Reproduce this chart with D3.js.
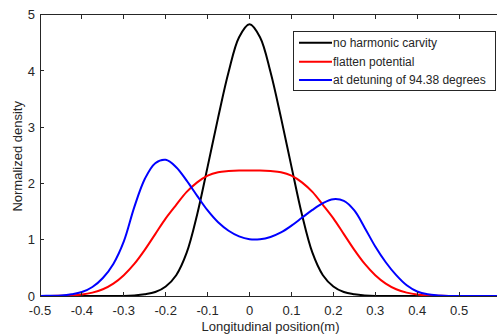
<!DOCTYPE html>
<html>
<head>
<meta charset="utf-8">
<script src="https://cdn.jsdelivr.net/npm/d3@7"></script>
<style>
  body { margin: 0; background: #fff; overflow: hidden; }
  text { font-family: "Liberation Sans", Arial, sans-serif; fill: #262626; }
</style>
</head>
<body>
<script>
// positions along the bunch (m)
const positions = [-0.5, -0.475, -0.45, -0.425, -0.4, -0.375, -0.35, -0.325, -0.3, -0.275,
  -0.25, -0.225, -0.2, -0.175, -0.15, -0.125, -0.1, -0.075, -0.05, -0.025,
  0, 0.025, 0.05, 0.075, 0.1, 0.125, 0.15, 0.175, 0.2, 0.225,
  0.25, 0.275, 0.3, 0.325, 0.35, 0.375, 0.4, 0.425, 0.45, 0.475,
  0.5, 0.525, 0.55, 0.575, 0.6];

const noHarmonic = [0, 0, 0, 0, 0, 0, 0, 0, 0, 0.01,
  0.03, 0.07, 0.17, 0.37, 0.77, 1.45, 2.30, 3.17, 3.98, 4.60,
  4.83, 4.60, 3.98, 3.17, 2.30, 1.45, 0.77, 0.37, 0.17, 0.07,
  0.03, 0.01, 0, 0, 0, 0, 0, 0, 0, 0,
  0, 0, 0, 0, 0];

const flatten = [0, 0, 0.005, 0.01, 0.025, 0.06, 0.12, 0.22, 0.37, 0.57,
  0.82, 1.10, 1.38, 1.62, 1.85, 2.02, 2.14, 2.20, 2.22, 2.23,
  2.23, 2.23, 2.22, 2.20, 2.14, 2.02, 1.85, 1.62, 1.38, 1.10,
  0.82, 0.57, 0.37, 0.22, 0.12, 0.06, 0.025, 0.01, 0.005, 0,
  0, 0, 0, 0, 0];

const detuned = [0, 0.005, 0.01, 0.03, 0.07, 0.16, 0.32, 0.57, 0.97, 1.58,
  2.08, 2.36, 2.42, 2.29, 2.05, 1.78, 1.52, 1.31, 1.16, 1.06,
  1.01, 1.01, 1.05, 1.13, 1.25, 1.39, 1.53, 1.65, 1.72, 1.69,
  1.52, 1.21, 0.88, 0.60, 0.37, 0.19, 0.08, 0.03, 0.01, 0,
  0, 0, 0, 0, 0];

const seriesNames = ["no harmonic carvity", "flatten potential", "at detuning of 94.38 degrees"];
const seriesColors = ["#000000", "#ff0000", "#0000ff"];
const xTicks = [-0.5, -0.4, -0.3, -0.2, -0.1, 0, 0.1, 0.2, 0.3, 0.4, 0.5, 0.6];
const xTickLabels = ["-0.5", "-0.4", "-0.3", "-0.2", "-0.1", "0", "0.1", "0.2", "0.3", "0.4", "0.5", ""];
const yTicks = [0, 1, 2, 3, 4, 5];

function drawChart(svg)
{
  const width = 497;
  const height = 336;
  const left = 40, right = 501, top = 14.7, bottom = 296;
  const tickLen = 4;
  const axisColor = "#262626";

  svg.attr("width", width).attr("height", height);

  let xScale = d3.scaleLinear().domain([-0.5, 0.6]).range([left, right]);
  let yScale = d3.scaleLinear().domain([0, 5]).range([bottom, top]);

  let lineGen = d3.line()
      .x((d, i) => xScale(positions[i]))
      .y(d => yScale(Math.max(0, d)))
      .curve(d3.curveCatmullRom.alpha(0.5));

  // curves
  let series = [noHarmonic, flatten, detuned];
  svg.append("g")
    .selectAll("path")
    .data(series)
    .enter()
    .append("path")
    .attr("d", d => lineGen(d))
    .attr("fill", "none")
    .attr("stroke", (d, i) => seriesColors[i])
    .attr("stroke-width", 2)
    .attr("stroke-linejoin", "round");

  // axis box lines
  let ax = svg.append("g").attr("stroke", axisColor).attr("stroke-width", 1).attr("shape-rendering", "crispEdges");
  ax.append("line").attr("x1", left).attr("x2", right).attr("y1", bottom).attr("y2", bottom);
  ax.append("line").attr("x1", left).attr("x2", right).attr("y1", top).attr("y2", top);
  ax.append("line").attr("x1", left).attr("x2", left).attr("y1", top).attr("y2", bottom);

  // inward ticks, matlab style
  xTicks.forEach(t => {
    let x = xScale(t);
    ax.append("line").attr("x1", x).attr("x2", x).attr("y1", bottom).attr("y2", bottom - tickLen);
    ax.append("line").attr("x1", x).attr("x2", x).attr("y1", top).attr("y2", top + tickLen);
  });
  yTicks.forEach(t => {
    let y = yScale(t);
    ax.append("line").attr("x1", left).attr("x2", left + tickLen).attr("y1", y).attr("y2", y);
  });

  // tick labels
  svg.append("g")
    .selectAll("text")
    .data(xTicks)
    .enter()
    .append("text")
    .attr("x", d => xScale(d))
    .attr("y", 314.5)
    .attr("text-anchor", "middle")
    .style("font-size", "13px")
    .text((d, i) => xTickLabels[i]);

  svg.append("g")
    .selectAll("text")
    .data(yTicks)
    .enter()
    .append("text")
    .attr("x", left - 5)
    .attr("y", d => yScale(d))
    .attr("dy", "0.35em")
    .attr("text-anchor", "end")
    .style("font-size", "13px")
    .text(d => d);

  // axis titles
  svg.append("text")
    .attr("x", (left + right) / 2)
    .attr("y", 331)
    .attr("text-anchor", "middle")
    .style("font-size", "13px")
    .text("Longitudinal position(m)");

  svg.append("text")
    .attr("transform", "translate(22," + ((top + bottom) / 2 + 1) + ") rotate(-90)")
    .attr("text-anchor", "middle")
    .style("font-size", "13px")
    .text("Normalized density");

  // legend
  let legend = svg.append("g");
  legend.append("rect")
    .attr("x", 293.5).attr("y", 31.5)
    .attr("width", 202).attr("height", 59)
    .attr("fill", "#fff")
    .attr("stroke", axisColor)
    .attr("stroke-width", 1);
  let rows = [42.7, 61.7, 80];
  seriesNames.forEach((name, i) => {
    legend.append("line")
      .attr("x1", 299).attr("x2", 332)
      .attr("y1", rows[i]).attr("y2", rows[i])
      .attr("stroke", seriesColors[i])
      .attr("stroke-width", 2);
    legend.append("text")
      .attr("x", 333)
      .attr("y", rows[i])
      .attr("dy", "0.35em")
      .style("font-size", "12px")
      .text(name);
  });
}

drawChart(d3.select("body").append("svg"));
</script>
</body>
</html>
